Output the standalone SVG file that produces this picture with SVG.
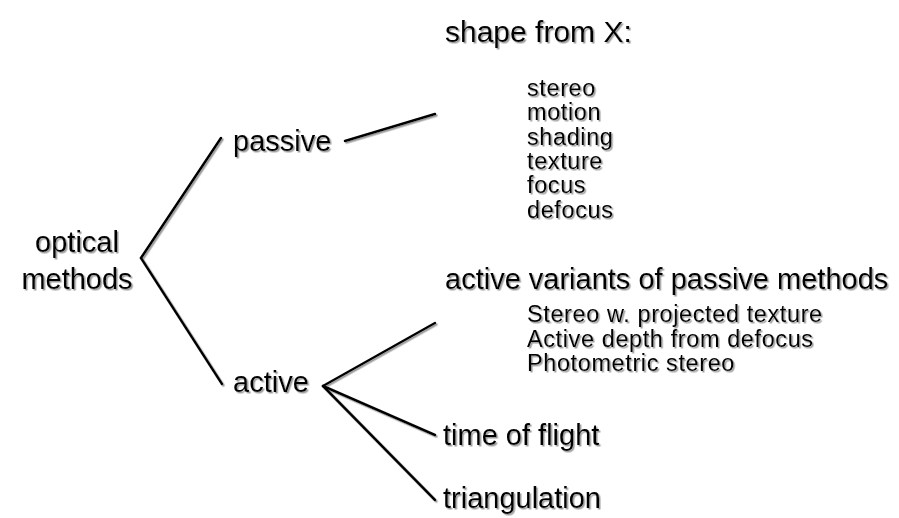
<svg xmlns="http://www.w3.org/2000/svg" width="899" height="518" viewBox="0 0 899 518">
<defs>
<filter id="sh" x="-10%" y="-10%" width="130%" height="130%">
<feDropShadow dx="1.5" dy="1.5" stdDeviation="0.7" flood-color="#8a8a8a" flood-opacity="0.85"/>
</filter>
</defs>
<style>
text{font-family:"Liberation Sans",Arial,Helvetica,sans-serif;fill:#000}
.m{font-size:29px}
.s{font-size:23.5px;letter-spacing:0.6px}
.c line{stroke:#000;stroke-width:2.5;stroke-linecap:round}
</style>
<rect width="899" height="518" fill="#fff"/>
<g class="c" id="connectors" filter="url(#sh)">
<line x1="141" y1="258" x2="221" y2="138"/>
<line x1="141" y1="258" x2="222" y2="384"/>
<line x1="345" y1="141" x2="435" y2="114"/>
<line x1="323" y1="386" x2="435" y2="323"/>
<line x1="323" y1="386" x2="435" y2="435"/>
<line x1="323" y1="386" x2="435" y2="500"/>
</g>
<g filter="url(#sh)">
<g id="optical"><text class="m" x="77" y="252" text-anchor="middle">optical</text><text class="m" x="77" y="289" text-anchor="middle">methods</text></g>
<g id="passive"><text class="m" x="233" y="151">passive</text></g>
<g id="active"><text class="m" x="233" y="392">active</text></g>
<g id="shape"><text class="m" x="445" y="42" style="font-size:30px">shape from X:</text>
<text class="s" x="527" y="96">stereo</text>
<text class="s" x="527" y="120">motion</text>
<text class="s" x="527" y="145">shading</text>
<text class="s" x="527" y="169">texture</text>
<text class="s" x="527" y="193">focus</text>
<text class="s" x="527" y="218">defocus</text></g>
<g id="variants"><text class="m" x="445" y="289">active variants of passive methods</text>
<text class="s" x="527" y="322">Stereo w. projected texture</text>
<text class="s" x="527" y="347">Active depth from defocus</text>
<text class="s" x="527" y="371">Photometric stereo</text></g>
<g id="tof"><text class="m" x="443" y="445">time of flight</text></g>
<g id="tri"><text class="m" x="443" y="508">triangulation</text></g>
</g>
</svg>
